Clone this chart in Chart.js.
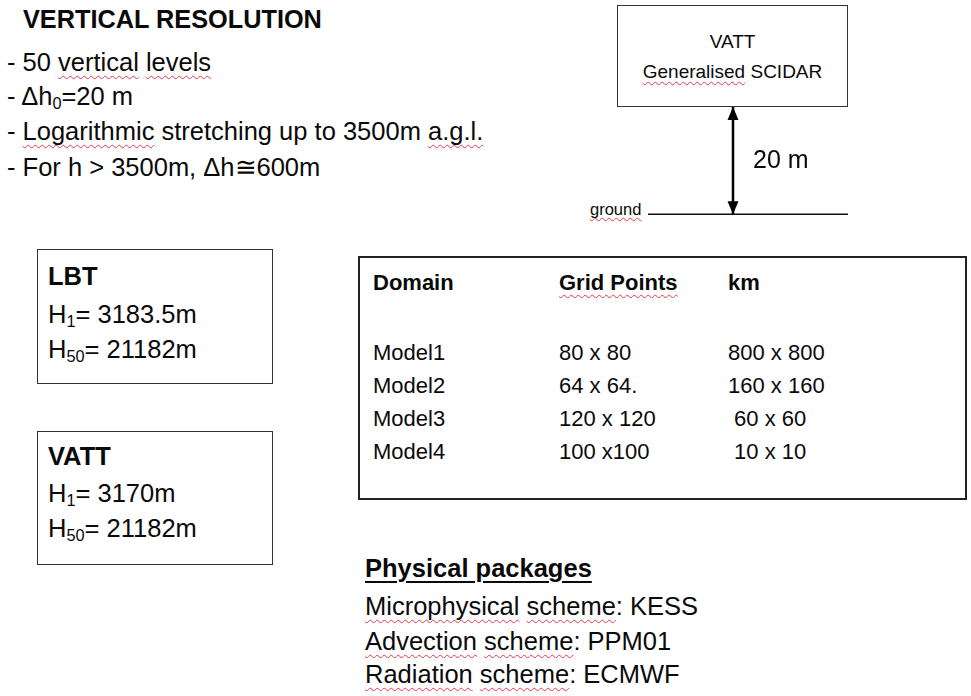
<!DOCTYPE html>
<html><head><meta charset="utf-8">
<script src="https://cdn.jsdelivr.net/npm/chart.js@4/dist/chart.umd.min.js"></script>
<style>
html,body{margin:0;padding:0;background:#fff;}
#page{position:relative;width:971px;height:696px;overflow:hidden;font-family:"Liberation Sans",Arial,Helvetica,sans-serif;color:#0a0a0a;}
.t{position:absolute;white-space:pre;line-height:1;}
.b{font-weight:bold;}
.box{position:absolute;box-sizing:border-box;border:1.5px solid #333;}
.sq{text-decoration:underline wavy #e5394a;text-decoration-thickness:1px;text-underline-offset:4px;text-decoration-skip-ink:none;}
.ul{text-decoration:underline;text-decoration-thickness:2px;text-underline-offset:4px;}
sub{font-size:0.64em;vertical-align:-0.22em;line-height:0;}
#diagram{position:absolute;left:648px;top:107px;width:200px;height:118px;}
</style>
</head>
<body>
<div id="page">
  <div class="t b" style="left:23px;top:7px;font-size:25.3px;">VERTICAL RESOLUTION</div>
  <div class="t" style="left:7px;top:49.5px;font-size:25.5px;">- 50 <span class="sq">vertical</span> <span class="sq">levels</span></div>
  <div class="t" style="left:7px;top:84px;font-size:25.5px;">- Δh<sub>0</sub>=20 m</div>
  <div class="t" style="left:7px;top:119px;font-size:25.5px;">- <span class="sq">Logarithmic</span> stretching up to 3500m <span class="sq">a.g.l.</span></div>
  <div class="t" style="left:7px;top:155px;font-size:25.5px;">- For h &gt; 3500m, Δh≅600m</div>

  <div class="box" style="left:617px;top:5px;width:231px;height:102px;"></div>
  <div class="t" style="left:617px;width:231px;text-align:center;top:32px;font-size:19px;">VATT</div>
  <div class="t" style="left:617px;width:231px;text-align:center;top:62px;font-size:19px;"><span class="sq" style="text-underline-offset:3px">Generalised</span> SCIDAR</div>
  <div id="diagram"><canvas id="c"></canvas></div>
  <div class="t" id="hlabel" style="left:753px;top:147px;font-size:25px;"></div>
  <div class="t" id="glabel" style="left:590px;top:201px;font-size:16.5px;"></div>

  <div class="box" style="left:37px;top:249px;width:236px;height:135px;"></div>
  <div class="t b" id="s1name" style="left:48px;top:263.5px;font-size:25.5px;"></div>
  <div class="t" id="s1h1" style="left:48px;top:301.5px;font-size:25.5px;"></div>
  <div class="t" id="s1h50" style="left:48px;top:336.5px;font-size:25.5px;"></div>

  <div class="box" style="left:37px;top:431px;width:236px;height:134px;"></div>
  <div class="t b" id="s2name" style="left:48px;top:443.5px;font-size:25.5px;"></div>
  <div class="t" id="s2h1" style="left:48px;top:480.5px;font-size:25.5px;"></div>
  <div class="t" id="s2h50" style="left:48px;top:515.5px;font-size:25.5px;"></div>

  <div class="box" style="left:358px;top:256px;width:609px;height:244px;border:2px solid #222;"></div>
  <div id="table"></div>

  <div class="t b" style="left:365px;top:555.5px;font-size:25.5px;"><span class="ul">Physical packages</span></div>
  <div id="phys"></div>
</div>
<script>
// ---- data ----
const levelHeightsM = [0, 20];                 // ground, VATT Generalised SCIDAR (m)
const levelLabels = ['ground', '20 m'];
const sites = ['LBT', 'VATT'];
const siteH1 = ['3183.5m', '3170m'];
const siteH50 = ['21182m', '21182m'];
const tableHeaders = ['Domain', 'Grid Points', 'km'];
const domains = ['Model1', 'Model2', 'Model3', 'Model4'];
const gridPoints = ['80 x 80', '64 x 64.', '120 x 120', '100 x100'];
const kmSizes = ['800 x 800', '160 x 160', ' 60 x 60', ' 10 x 10'];
const schemeNames = ['Microphysical', 'Advection', 'Radiation'];
const schemeValues = ['KESS', 'PPM01', 'ECMWF'];

// ---- layout (not data) ----
const ARROW_X = 0.425;
const colLeft = [373, 559, 728];
const headerTop = 271.5;
const rowTops = [341.5, 374.5, 407.5, 440.5];
const physTops = [593.5, 628.5, 661.5];

document.getElementById('glabel').innerHTML = '<span class="sq" style="text-underline-offset:2px">' + levelLabels[0] + '</span>';
document.getElementById('hlabel').textContent = levelLabels[1];

const siteIds = [['s1name','s1h1','s1h50'],['s2name','s2h1','s2h50']];
sites.forEach((s, i) => {
  document.getElementById(siteIds[i][0]).textContent = s;
  document.getElementById(siteIds[i][1]).innerHTML = 'H<sub>1</sub>= ' + siteH1[i];
  document.getElementById(siteIds[i][2]).innerHTML = 'H<sub>50</sub>= ' + siteH50[i];
});

const tbl = document.getElementById('table');
let html = '';
tableHeaders.forEach((h, j) => {
  const txt = j === 1 ? '<span class="sq">' + h + '</span>' : h;
  html += '<div class="t b" style="left:' + colLeft[j] + 'px;top:' + headerTop + 'px;font-size:22px;">' + txt + '</div>';
});
domains.forEach((d, i) => {
  [d, gridPoints[i], kmSizes[i]].forEach((v, j) => {
    html += '<div class="t" style="left:' + colLeft[j] + 'px;top:' + rowTops[i] + 'px;font-size:22px;">' + v + '</div>';
  });
});
tbl.innerHTML = html;

const phys = document.getElementById('phys');
phys.innerHTML = schemeNames.map((n, i) =>
  '<div class="t" style="left:365px;top:' + physTops[i] + 'px;font-size:25.5px;"><span class="sq">' + n + '</span> <span class="sq">scheme</span>: ' + schemeValues[i] + '</div>'
).join('');

// ---- chart: height diagram ----
const arrowHeads = {
  id: 'arrowHeads',
  afterDatasetsDraw(chart) {
    const pts = chart.getDatasetMeta(1).data;
    const ctx = chart.ctx;
    ctx.save();
    ctx.fillStyle = '#000';
    const head = (p, dir) => {
      ctx.beginPath();
      ctx.moveTo(p.x, p.y);
      ctx.lineTo(p.x - 5.5, p.y - dir * 13);
      ctx.lineTo(p.x + 5.5, p.y - dir * 13);
      ctx.closePath();
      ctx.fill();
    };
    head(pts[0], 1);
    head(pts[pts.length - 1], -1);
    ctx.restore();
  }
};

const groundLine = [{x: 0, y: levelHeightsM[0]}, {x: 1, y: levelHeightsM[0]}];
const arrowLine = levelHeightsM.map(h => ({x: ARROW_X, y: h}));

new Chart(document.getElementById('c'), {
  type: 'scatter',
  data: {
    datasets: [
      {data: groundLine, showLine: true, borderColor: '#111', borderWidth: 1.6, pointRadius: 0, clip: false},
      {data: arrowLine, showLine: true, borderColor: '#000', borderWidth: 2.5, pointRadius: 0, clip: false}
    ]
  },
  options: {
    responsive: true,
    maintainAspectRatio: false,
    animation: false,
    devicePixelRatio: 1,
    layout: {padding: 0},
    plugins: {legend: {display: false}, tooltip: {enabled: false}},
    scales: {
      x: {type: 'linear', display: false, min: 0, max: 1},
      y: {type: 'linear', display: false, min: -2, max: levelHeightsM[1]}
    }
  },
  plugins: [arrowHeads]
});
</script>
</body></html>
